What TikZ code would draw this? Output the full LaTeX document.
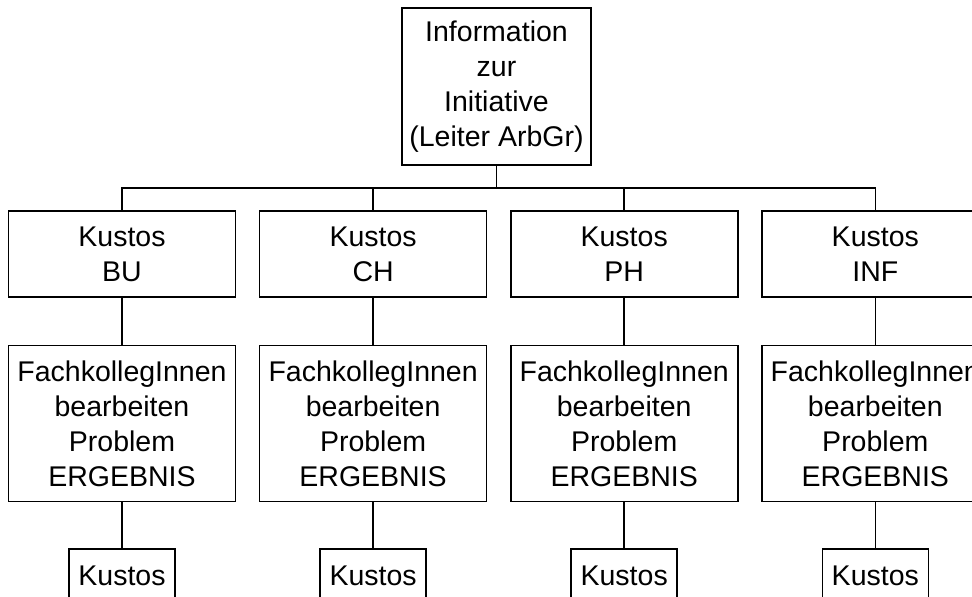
\documentclass[tikz,border=0pt]{standalone}
\usepackage{fontspec}
\setmainfont{Liberation Sans}
\usetikzlibrary{positioning}

\begin{document}
\begin{tikzpicture}[
    x=1pt, y=-1pt,
    line width=1.6pt,
    every node/.style={font=\fontsize{28.5}{35}\selectfont, align=center, inner sep=0pt},
    box/.style={rectangle, draw, minimum width=227pt},
    headbox/.style={box, minimum width=189pt, minimum height=157pt},
    kustos/.style={box, minimum height=86pt},
    fach/.style={box, minimum height=156pt},
    endbox/.style={rectangle, draw, minimum width=106pt, minimum height=54pt}
]

\useasboundingbox (0,0) rectangle (972,597);
\clip (0,0) rectangle (972,597);

% Head
\node[headbox] (head) at (496.5,86.5) {Information\\zur\\Initiative\\(Leiter ArbGr)};

% Kustos row
\node[kustos] (k1) at (122,254) {Kustos\\BU};
\node[kustos, right=22.5pt of k1] (k2) {Kustos\\CH};
\node[kustos, right=22.5pt of k2] (k3) {Kustos\\PH};
\node[kustos, right=22.5pt of k3] (k4) {Kustos\\INF};

% Fachkollegen row and last row
\foreach \i in {1,...,4} {
    \node[fach, below=47pt of k\i] (f\i) {FachkollegInnen\\bearbeiten\\Problem\\ERGEBNIS};
    \node[endbox, below=46pt of f\i] (e\i) {Kustos};
    \draw (k\i) -- (f\i);
    \draw (f\i) -- (e\i);
}

% Bar below head
\coordinate (bar) at (head.south |- 0,188);
\draw (head.south) -- (bar);
\draw (k1.north) |- (bar) -| (k4.north);
\draw (k2.north) |- (bar);
\draw (k3.north) |- (bar);

\end{tikzpicture}
\end{document}
